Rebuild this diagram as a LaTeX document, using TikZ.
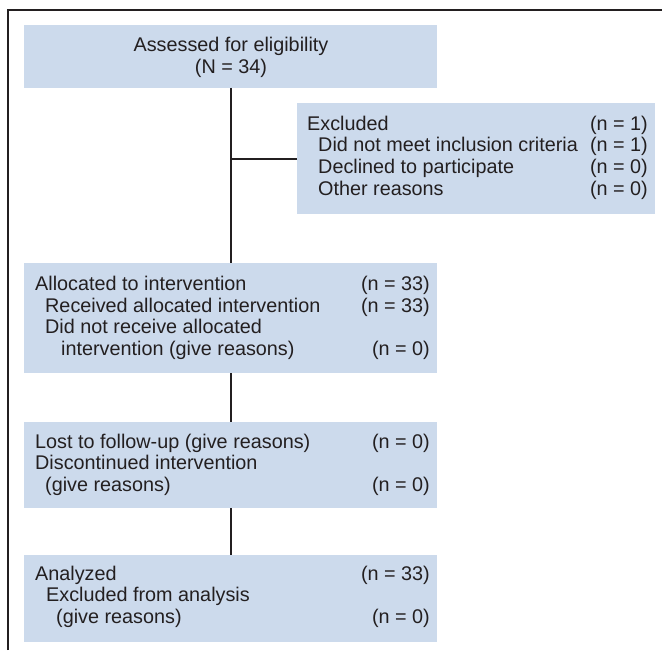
\documentclass[tikz,border=0pt]{standalone}
\usepackage{fontspec}
\setmainfont{Liberation Sans}
\definecolor{boxblue}{HTML}{CCDAEC}
\definecolor{ink}{HTML}{231F20}
\begin{document}
\begin{tikzpicture}[x=1pt,y=-1pt,
  box/.style={fill=boxblue, draw=none, inner sep=0pt, outer sep=0pt, anchor=north west},
  lbl/.style={inner sep=0pt, anchor=base west, font=\fontsize{19.8}{21.7}\selectfont, text=ink},
  ctr/.style={lbl, anchor=base},
  cnt/.style={lbl, anchor=base east},
  conn/.style={draw=ink, line width=2pt},
  frame/.style={draw=ink, line width=1.5pt}]
\useasboundingbox (0,0) rectangle (666,650);
% frame
\coordinate (fbl) at (8,650);
\coordinate (ftl) at (8,10);
\coordinate (ftr) at (662,10);
\draw[frame] (fbl) -- (ftl) -- (ftr);
% boxes
\node[box, minimum width=413pt, minimum height=63pt] (assess) at (24,25) {};
\node[box, minimum width=358pt, minimum height=111pt] (excl) at (297,103) {};
\node[box, minimum width=413pt, minimum height=110pt] (alloc) at (24,263) {};
\node[box, minimum width=413pt, minimum height=86pt] (lost) at (24,422) {};
\node[box, minimum width=413pt, minimum height=87pt] (anal) at (24,555) {};
% connectors
\draw[conn] (assess.south) -- (alloc.north);
\draw[conn] (excl.west) -- (excl.west -| assess.south);
\draw[conn] (alloc.south) -- (lost.north);
\draw[conn] (lost.south) -- (anal.north);
% assessed
\node[ctr] (t1) at (231,52) {Assessed for eligibility};
\node[ctr] (t2) at (231,74) {(N = 34)};
% excluded
\node[lbl] (e1) at (307,130) {Excluded};
\node[lbl] (e2) at (318,151.7) {Did not meet inclusion criteria};
\node[lbl] (e3) at (318,173.4) {Declined to participate};
\node[lbl] (e4) at (318,195.1) {Other reasons};
\node[cnt] (e1n) at (648,130) {(n = 1)};
\node[cnt] (e2n) at (648,151.7) {(n = 1)};
\node[cnt] (e3n) at (648,173.4) {(n = 0)};
\node[cnt] (e4n) at (648,195.1) {(n = 0)};
% allocated
\node[lbl] (l1) at (35,290.5) {Allocated to intervention};
\node[lbl] (l2) at (45,312.2) {Received allocated intervention};
\node[lbl] (l3) at (45,333.9) {Did not receive allocated};
\node[lbl] (l4) at (61,355.6) {intervention (give reasons)};
\node[cnt] (l1n) at (430,290.5) {(n = 33)};
\node[cnt] (l2n) at (430,312.2) {(n = 33)};
\node[cnt] (l4n) at (430,355.6) {(n = 0)};
% lost
\node[lbl] (o1) at (35,448) {Lost to follow-up (give reasons)};
\node[lbl] (o2) at (35,469.7) {Discontinued intervention};
\node[lbl] (o3) at (45,491.4) {(give reasons)};
\node[cnt] (o1n) at (430,448) {(n = 0)};
\node[cnt] (o3n) at (430,491.4) {(n = 0)};
% analyzed
\node[lbl] (a1) at (35,580) {Analyzed};
\node[lbl] (a2) at (46,601.7) {Excluded from analysis};
\node[lbl] (a3) at (56,623.4) {(give reasons)};
\node[cnt] (a1n) at (430,580) {(n = 33)};
\node[cnt] (a3n) at (430,623.4) {(n = 0)};
\end{tikzpicture}
\end{document}
